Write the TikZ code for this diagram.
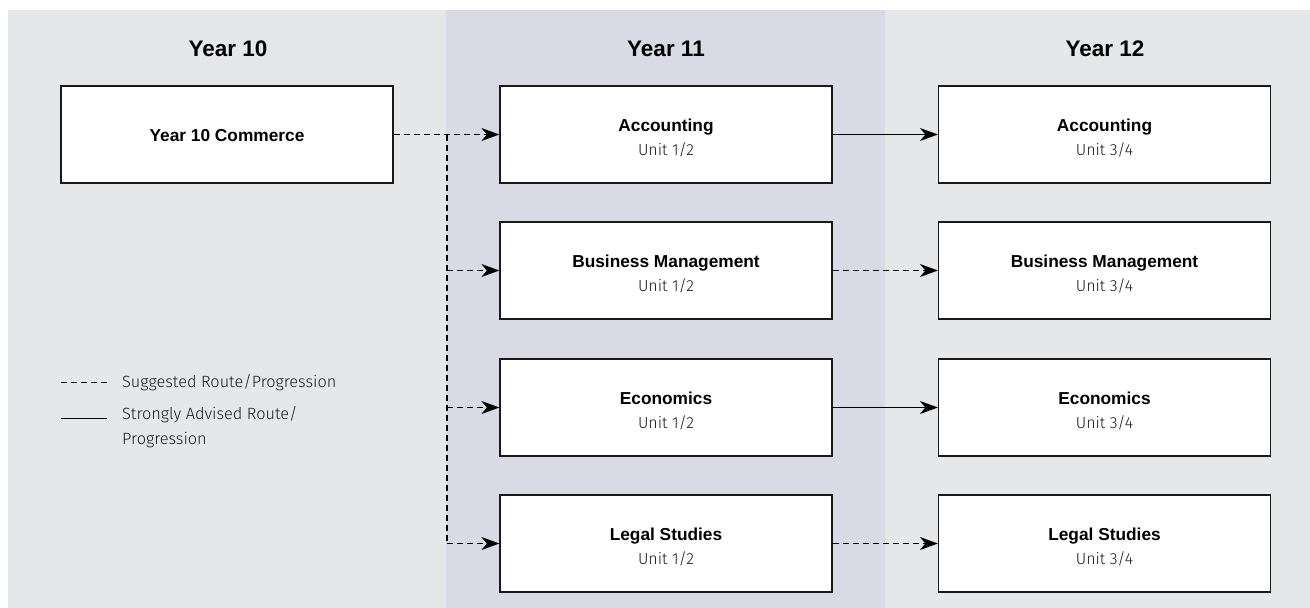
\documentclass[tikz,border=0pt]{standalone}
\usepackage{fontspec}
\setmainfont{Liberation Sans}
\newfontfamily\lightfont{Fira Sans}[UprightFont={* Light}]
\usetikzlibrary{arrows.meta,calc}
\definecolor{bggray}{HTML}{E6E7E9}
\definecolor{bandblue}{HTML}{D9DAE6}
\definecolor{subtext}{HTML}{1A1A1A}
\begin{document}
\begin{tikzpicture}[x=1pt,y=-1pt,
  coursebox/.style={draw=black!90,line width=1.2pt,fill=white,minimum width=332pt,minimum height=97pt,inner sep=0pt,align=center,font=\bfseries\fontsize{17.3}{20}\selectfont},
  header/.style={font=\bfseries\fontsize{22.5}{26}\selectfont},
  sugg/.style={line width=1.1pt,dash pattern=on 6pt off 4pt},
  strong/.style={line width=1.1pt},
  tip/.style={-{Stealth[length=18pt,width=13pt,inset=5.5pt]}},
  legendtext/.style={anchor=west,align=left,font=\lightfont\fontsize{16.3}{25.5}\selectfont,text=subtext,inner sep=0pt}
]
\useasboundingbox (0,0) rectangle (1310,608);
\fill[white] (0,0) rectangle (1310,608);
\fill[bggray] (8,10) rectangle (1310,608);
\fill[bandblue] (446,10) rectangle (885,608);

\newcommand{\titleline}[1]{\rule{0pt}{19pt}#1}
\newcommand{\unitline}[1]{\\[4pt]{\lightfont\mdseries\fontsize{16}{20}\selectfont\color{subtext}#1}}

\node[header] (h10) at (228,49) {Year 10};
\node[header] (h11) at (666,49) {Year 11};
\node[header] (h12) at (1105,49) {Year 12};

\node[coursebox] (y10) at (227,134.5) {\rule{0pt}{15pt}Year 10 Commerce};

\node[coursebox] (a11) at (666,134.5) {\titleline{Accounting}\unitline{Unit 1/2}};
\node[coursebox] (b11) at (666,270.5) {\titleline{Business Management}\unitline{Unit 1/2}};
\node[coursebox] (e11) at (666,407.5) {\titleline{Economics}\unitline{Unit 1/2}};
\node[coursebox] (l11) at (666,543.5) {\titleline{Legal Studies}\unitline{Unit 1/2}};

\node[coursebox] (a12) at (1104.5,134.5) {\titleline{Accounting}\unitline{Unit 3/4}};
\node[coursebox] (b12) at (1104.5,270.5) {\titleline{Business Management}\unitline{Unit 3/4}};
\node[coursebox] (e12) at (1104.5,407.5) {\titleline{Economics}\unitline{Unit 3/4}};
\node[coursebox] (l12) at (1104.5,543.5) {\titleline{Legal Studies}\unitline{Unit 3/4}};

\coordinate (ja) at (447,134.5);
\coordinate (jb) at (ja |- b11.west);
\coordinate (je) at (ja |- e11.west);
\coordinate (jl) at (ja |- l11.west);

\draw[sugg,tip] (y10.east) -- (a11.west);
\draw[sugg] (ja) -- (jl);
\draw[sugg,tip] (jb) -- (b11.west);
\draw[sugg,tip] (je) -- (e11.west);
\draw[sugg,tip] (jl) -- (l11.west);

\draw[strong,tip] (a11.east) -- (a12.west);
\draw[sugg,tip] (b11.east) -- (b12.west);
\draw[strong,tip] (e11.east) -- (e12.west);
\draw[sugg,tip] (l11.east) -- (l12.west);

\coordinate (ld1) at (61,382);
\coordinate (ld2) at (107,382);
\coordinate (ls1) at (61,418);
\coordinate (ls2) at (107,418);
\draw[line width=1pt,dash pattern=on 6pt off 4pt] (ld1) -- (ld2);
\draw[line width=1pt] (ls1) -- (ls2);
\node[legendtext] (lt1) at (122,382.5) {Suggested Route/Progression};
\node[legendtext,anchor=north west] (lt2) at (122,406) {Strongly Advised Route/\\Progression};
\end{tikzpicture}
\end{document}
